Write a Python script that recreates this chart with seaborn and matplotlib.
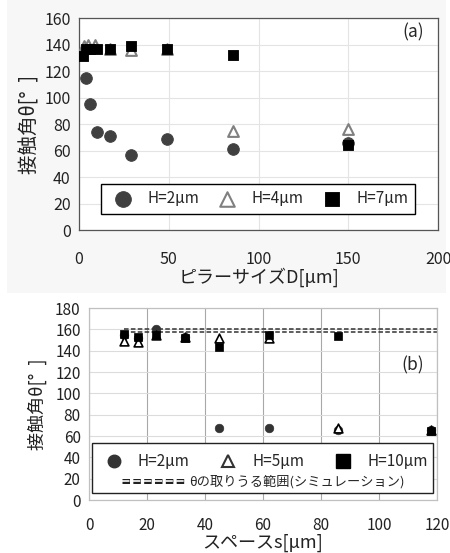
import numpy as np
import pandas as pd
import matplotlib
matplotlib.use('Agg')
import matplotlib.pyplot as plt
import matplotlib.patheffects as pe
from matplotlib.lines import Line2D
from matplotlib.patches import Rectangle
import seaborn as sns

sns.set_style('white')
plt.rcParams['font.family'] = ['Noto Sans CJK JP', 'DejaVu Sans']

# (a) pillar size D [um] vs contact angle
d_a = [4, 6, 10, 17, 29, 49, 86, 150]
h2_a = [115, 95, 74, 71, 57, 69, 61, 66]
d_a4 = [3, 5, 9, 17, 29, 49, 86, 150]
h4_a = [139, 140, 140, 137, 136, 137, 75, 76]
d_a7 = [2, 4, 6, 10, 17, 29, 49, 86, 150]
h7_a = [131, 137, 137, 137, 137, 139, 137, 132, 64]

# (b) space s [um] vs contact angle
s_b = [12, 17, 23, 33, 45, 62, 86, 118]
h2_b = [155, 152, 160, 153, 68, 68, 66, 66]
h5_b = [149, 148, 155, 153, 152, 152, 68, 66]
h10_b = [156, 153, 155, 152, 144, 155, 154, 65]
sim_x = [12, 120]
sim_lo = [157.5, 157.5]
sim_hi = [160.5, 160.5]

fig = plt.figure(figsize=(4.5, 5.53), dpi=100)
fig.patches.append(Rectangle((0.015, 0.47), 0.975, 0.53, transform=fig.transFigure,
                             facecolor='#f7f7f7', edgecolor='none', zorder=-10))

ax1 = fig.add_axes([0.1756, 0.584, 0.7978, 0.3834])
ax2 = fig.add_axes([0.1978, 0.0958, 0.773, 0.347])

# ---- panel (a)
sns.scatterplot(x=d_a, y=h2_a, ax=ax1, marker='o', s=70, color='#404040',
                edgecolor='#404040', label='H=2μm', zorder=3)
sns.scatterplot(x=d_a4, y=h4_a, ax=ax1, marker='^', s=60, facecolor='white',
                edgecolor='#808080', linewidth=1.5, label='H=4μm', zorder=4)
sns.scatterplot(x=d_a7, y=h7_a, ax=ax1, marker='s', s=60, color='black',
                edgecolor='black', label='H=7μm', zorder=5)
ax1.set_xlim(0, 200)
ax1.set_ylim(0, 160)
ax1.set_xticks(np.arange(0, 201, 50))
ax1.set_yticks(np.arange(0, 161, 20))
ax1.grid(True, color='#e4e4e4', linewidth=0.8)
ax1.set_axisbelow(True)
for sp in ax1.spines.values():
    sp.set_color('#555555')
    sp.set_linewidth(0.9)
ax1.tick_params(length=0, labelsize=11.5, colors='#222222', pad=6)
ax1.tick_params(axis='x', pad=15)
ax1.set_xlabel('ピラーサイズD[μm]', fontsize=13, color='#222222', labelpad=0)
ax1.set_ylabel('接触角θ[°  ]', fontsize=14, color='#222222', labelpad=3)
ax1.text(0.93, 0.93, '(a)', transform=ax1.transAxes, fontsize=12.5, ha='center', va='center')
leg = ax1.legend(ncol=3, loc='lower left', bbox_to_anchor=(0.039, 0.038, 0.919, 0.165),
                 mode='expand', fontsize=11, markerscale=1.35, frameon=True, fancybox=False,
                 edgecolor='black', borderpad=0.45, handletextpad=0.6, columnspacing=1.0)
leg.get_frame().set_linewidth(1.0)
leg.get_frame().set_alpha(1)

# ---- panel (b)
ax2.plot(sim_x, sim_lo, linestyle=(0, (3, 1.5)), color='#333333', linewidth=1.1, zorder=2)
ax2.plot(sim_x, sim_hi, linestyle=(0, (3, 1.5)), color='#333333', linewidth=1.1, zorder=2)
sns.scatterplot(x=s_b, y=h2_b, ax=ax2, marker='o', s=38, color='#333333',
                edgecolor='#333333', zorder=3, legend=False)
sns.scatterplot(x=s_b, y=h5_b, ax=ax2, marker='^', s=40, facecolor='white',
                edgecolor='black', linewidth=1.2, zorder=4, legend=False)
sns.scatterplot(x=s_b, y=h10_b, ax=ax2, marker='s', s=40, color='black',
                edgecolor='black', zorder=5, legend=False)
ax2.set_xlim(0, 120)
ax2.set_ylim(0, 180)
ax2.set_xticks(np.arange(0, 121, 20))
ax2.set_yticks(np.arange(0, 181, 20))
ax2.grid(True, axis='y', color='#dcdcdc', linewidth=0.8)
ax2.grid(True, axis='x', color='#a8a8a8', linewidth=0.8)
ax2.set_axisbelow(True)
for sp in ax2.spines.values():
    sp.set_color('#c0c0c0')
    sp.set_linewidth(0.9)
ax2.tick_params(length=0, labelsize=11, colors='#222222', pad=6)
ax2.tick_params(axis='x', pad=12)
ax2.set_xlabel('スペースs[μm]', fontsize=13, color='#222222', labelpad=0)
ax2.set_ylabel('接触角θ[°  ]', fontsize=13, color='#222222', labelpad=6)
ax2.text(0.93, 0.70, '(b)', transform=ax2.transAxes, fontsize=12.5, ha='center', va='center')

ax2.add_patch(Rectangle((0.009, 0.036), 0.98, 0.261, transform=ax2.transAxes,
                        facecolor='white', edgecolor='#222222', linewidth=1.0, zorder=6))
hb = [Line2D([], [], marker='o', linestyle='none', color='#333333', markersize=9),
      Line2D([], [], marker='^', linestyle='none', markerfacecolor='white',
             markeredgecolor='#333333', markeredgewidth=1.5, markersize=9),
      Line2D([], [], marker='s', linestyle='none', color='black', markersize=10)]
leg1 = ax2.legend(hb, ['H=2μm', 'H=5μm', 'H=10μm'], ncol=3, loc='center',
                  bbox_to_anchor=(0.5, 0.2), frameon=False, fontsize=11,
                  handletextpad=0.6, columnspacing=1.5)
leg1.set_zorder(7)
ax2.add_artist(leg1)
hd = Line2D([], [], linestyle=(0, (4.5, 2)), color='white', linewidth=1.2,
            path_effects=[pe.Stroke(linewidth=3.6, foreground='#222222'), pe.Normal()])
leg2 = ax2.legend([hd], ['θの取りうる範囲(シミュレーション)'], loc='center left',
                  bbox_to_anchor=(0.06, 0.095), frameon=False, fontsize=9.5,
                  handlelength=4.8, handletextpad=0.3)
leg2.set_zorder(7)

fig.savefig('out.png', dpi=100)
